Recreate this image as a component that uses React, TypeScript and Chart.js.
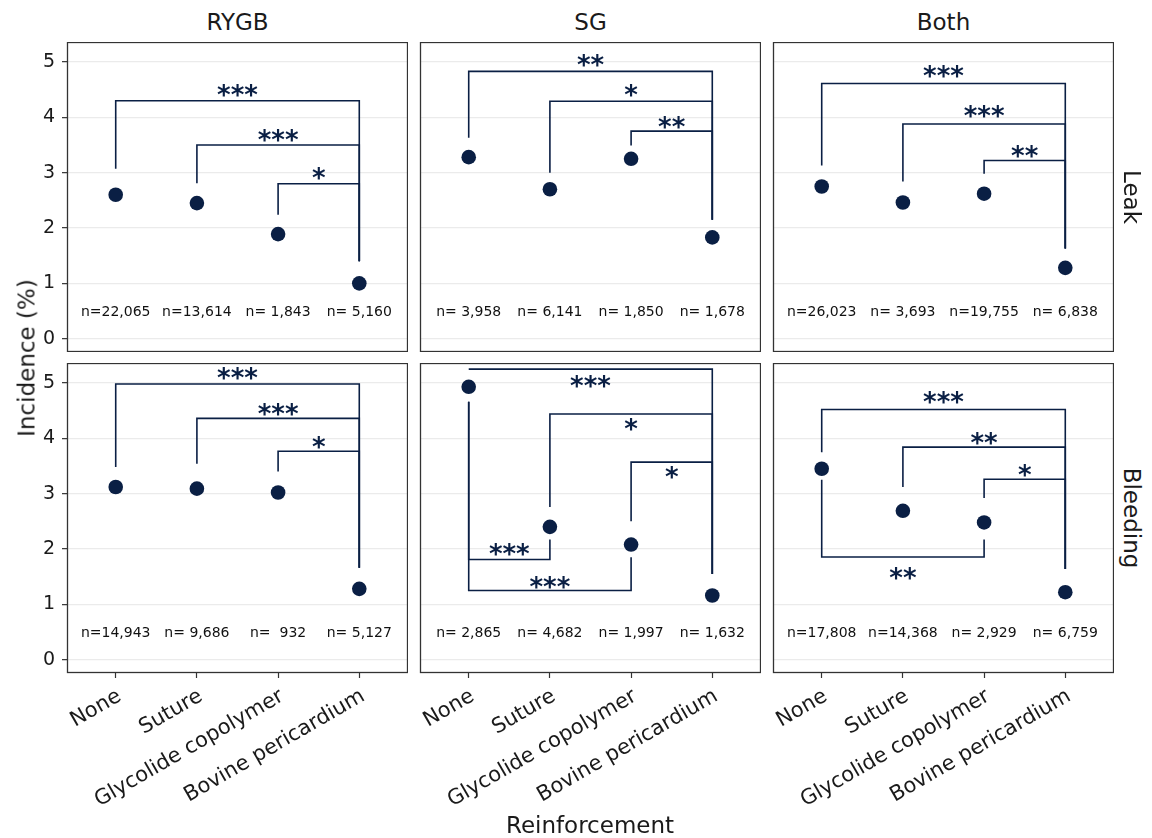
import React, { useEffect, useRef } from 'react';
import { Chart, registerables } from 'chart.js';

Chart.register(...registerables);

// ---------- data ----------
const categories = ['None', 'Suture', 'Glycolide copolymer', 'Bovine pericardium'];
const procedures = ['RYGB', 'SG', 'Both'];
const outcomes = ['Leak', 'Bleeding'];
const yTickValues = [0, 1, 2, 3, 4, 5];
const nLabelY = 0.5;

const leakRYGB = [2.6, 2.45, 1.89, 1.0];
const leakSG = [3.28, 2.7, 3.25, 1.83];
const leakBoth = [2.75, 2.46, 2.62, 1.28];
const bleedingRYGB = [3.12, 3.09, 3.02, 1.28];
const bleedingSG = [4.93, 2.4, 2.08, 1.16];
const bleedingBoth = [3.45, 2.69, 2.48, 1.22];

const leakNRYGB = ['n=22,065', 'n=13,614', 'n= 1,843', 'n= 5,160'];
const leakNSG = ['n= 3,958', 'n= 6,141', 'n= 1,850', 'n= 1,678'];
const leakNBoth = ['n=26,023', 'n= 3,693', 'n=19,755', 'n= 6,838'];
const bleedingNRYGB = ['n=14,943', 'n= 9,686', 'n=  932', 'n= 5,127'];
const bleedingNSG = ['n= 2,865', 'n= 4,682', 'n= 1,997', 'n= 1,632'];
const bleedingNBoth = ['n=17,808', 'n=14,368', 'n= 2,929', 'n= 6,759'];

// [fromCategory, toCategory, barValue, fromLegEnd, toLegEnd, label, labelValue]
type Bracket = [number, number, number, number, number, string, number];
const leakBracketsRYGB: Bracket[] = [
  [0, 3, 4.3, 3.07, 1.4, '***', 4.49],
  [1, 3, 3.5, 2.81, 1.4, '***', 3.68],
  [2, 3, 2.8, 2.24, 1.4, '*', 2.99],
];
const leakBracketsSG: Bracket[] = [
  [0, 3, 4.83, 3.63, 2.15, '**', 5.02],
  [1, 3, 4.29, 3.0, 2.15, '*', 4.49],
  [2, 3, 3.75, 3.49, 2.15, '**', 3.91],
];
const leakBracketsBoth: Bracket[] = [
  [0, 3, 4.61, 3.13, 1.63, '***', 4.82],
  [1, 3, 3.88, 2.84, 1.63, '***', 4.11],
  [2, 3, 3.22, 2.98, 1.63, '**', 3.39],
];
const bleedingBracketsRYGB: Bracket[] = [
  [0, 3, 4.98, 3.48, 1.66, '***', 5.17],
  [1, 3, 4.36, 3.54, 1.66, '***', 4.52],
  [2, 3, 3.765, 3.4, 1.66, '*', 3.93],
];
const bleedingBracketsSG: Bracket[] = [
  [0, 3, 5.25, 5.25, 1.55, '***', 5.03],
  [1, 3, 4.44, 2.76, 1.55, '*', 4.25],
  [2, 3, 3.57, 2.5, 1.55, '*', 3.38],
  [0, 1, 1.81, 4.66, 2.17, '***', 1.99],
  [0, 2, 1.25, 4.66, 1.85, '***', 1.4],
];
const bleedingBracketsBoth: Bracket[] = [
  [0, 3, 4.52, 3.75, 1.64, '***', 4.73],
  [1, 3, 3.84, 3.12, 1.64, '**', 4.0],
  [2, 3, 3.26, 2.92, 1.64, '*', 3.42],
  [0, 2, 1.855, 3.25, 2.17, '**', 1.555],
];

const panelValues = [
  [leakRYGB, leakSG, leakBoth],
  [bleedingRYGB, bleedingSG, bleedingBoth],
];
const panelN = [
  [leakNRYGB, leakNSG, leakNBoth],
  [bleedingNRYGB, bleedingNSG, bleedingNBoth],
];
const panelBrackets = [
  [leakBracketsRYGB, leakBracketsSG, leakBracketsBoth],
  [bleedingBracketsRYGB, bleedingBracketsSG, bleedingBracketsBoth],
];

// ---------- layout / style ----------
const FONT = '"DejaVu Sans", sans-serif';
const NAVY = '#0a1f44';
const TEXT = '#1a1a1a';
const COL_LEFT = [67, 420, 773];
const ROW_TOP = [42, 363];
const PANEL_W = 341;
const PANEL_H = 310;
const LEFT_M = 45;
const BOTTOM_M = 165;
const Y_MIN = -0.24;
const Y_MAX = 5.36;

function zeroPadding(s: any) {
  s.paddingTop = 0;
  s.paddingBottom = 0;
  s.paddingLeft = 0;
  s.paddingRight = 0;
}

function Panel({ r, c }: { r: number; c: number }) {
  const ref = useRef<HTMLCanvasElement>(null);
  const isLeft = c === 0;
  const isBottom = r === 1;
  const w = PANEL_W + LEFT_M;
  const h = PANEL_H + (isBottom ? BOTTOM_M : 0);

  useEffect(() => {
    const values = panelValues[r][c];
    const nLabels = panelN[r][c];
    const brackets = panelBrackets[r][c];

    const decor = {
      id: 'decor',
      beforeDatasetsDraw(chart: any) {
        const { ctx, chartArea, scales } = chart;
        const x = scales.x;
        const y = scales.y;
        ctx.save();
        ctx.beginPath();
        ctx.rect(chartArea.left, chartArea.top, chartArea.right - chartArea.left, chartArea.bottom - chartArea.top);
        ctx.clip();
        // n labels
        ctx.font = `14px ${FONT}`;
        ctx.fillStyle = '#111111';
        ctx.textAlign = 'center';
        ctx.textBaseline = 'alphabetic';
        const m = ctx.measureText('0123456789');
        const off = (m.actualBoundingBoxAscent - m.actualBoundingBoxDescent) / 2;
        nLabels.forEach((t: string, i: number) => {
          ctx.fillText(t, x.getPixelForValue(i), y.getPixelForValue(nLabelY) + off);
        });
        // brackets
        ctx.strokeStyle = NAVY;
        ctx.lineWidth = 1.6;
        ctx.lineCap = 'butt';
        ctx.lineJoin = 'miter';
        brackets.forEach(([a, b, bar, ea, eb]) => {
          const xa = x.getPixelForValue(a);
          const xb = x.getPixelForValue(b);
          ctx.beginPath();
          ctx.moveTo(xa, y.getPixelForValue(ea));
          ctx.lineTo(xa, y.getPixelForValue(bar));
          ctx.lineTo(xb, y.getPixelForValue(bar));
          ctx.lineTo(xb, y.getPixelForValue(eb));
          ctx.stroke();
        });
        ctx.font = `bold 26px ${FONT}`;
        ctx.fillStyle = NAVY;
        brackets.forEach(([a, b, , , , label, ly]) => {
          const xa = x.getPixelForValue(a);
          const xb = x.getPixelForValue(b);
          const mm = ctx.measureText(label);
          const o = (mm.actualBoundingBoxAscent - mm.actualBoundingBoxDescent) / 2;
          ctx.fillText(label, (xa + xb) / 2, y.getPixelForValue(ly) + o);
        });
        ctx.restore();
      },
      afterDraw(chart: any) {
        const { ctx, chartArea } = chart;
        ctx.save();
        ctx.strokeStyle = '#333333';
        ctx.lineWidth = 1.3;
        ctx.strokeRect(
          chartArea.left + 0.5,
          chartArea.top + 0.5,
          chartArea.right - chartArea.left - 1,
          chartArea.bottom - chartArea.top - 1
        );
        ctx.restore();
      },
    };

    const chart = new Chart(ref.current as HTMLCanvasElement, {
      type: 'scatter',
      data: {
        datasets: [
          {
            data: values.map((v, i) => ({ x: i, y: v })),
            backgroundColor: NAVY,
            borderColor: NAVY,
            borderWidth: 0,
            pointRadius: 7.3,
            pointHoverRadius: 7.3,
          },
        ],
      },
      options: {
        animation: false,
        responsive: false,
        maintainAspectRatio: false,
        devicePixelRatio: 1,
        events: [],
        layout: { padding: 0, autoPadding: false },
        plugins: { legend: { display: false }, tooltip: { enabled: false } },
        scales: {
          x: {
            type: 'linear',
            display: isBottom,
            min: -0.6,
            max: 3.6,
            afterBuildTicks: (s: any) => {
              s.ticks = [0, 1, 2, 3].map((v) => ({ value: v }));
            },
            afterFit: (s: any) => {
              s.height = isBottom ? BOTTOM_M : 0;
              zeroPadding(s);
            },
            grid: {
              drawOnChartArea: false,
              drawTicks: true,
              tickLength: 5,
              tickColor: '#333333',
              tickWidth: 1.2,
            },
            border: { display: false },
            ticks: {
              autoSkip: false,
              minRotation: 30,
              maxRotation: 30,
              padding: 6,
              labelOffset: 4,
              color: TEXT,
              font: { family: FONT, size: 21 },
              callback: (v: any) => categories[v as number] ?? '',
            },
          },
          y: {
            type: 'linear',
            display: true,
            min: Y_MIN,
            max: Y_MAX,
            afterBuildTicks: (s: any) => {
              s.ticks = yTickValues.map((v) => ({ value: v }));
            },
            afterFit: (s: any) => {
              s.width = LEFT_M;
              zeroPadding(s);
            },
            grid: {
              color: '#ebebeb',
              lineWidth: 1.3,
              drawTicks: isLeft,
              tickLength: 5,
              tickColor: '#333333',
              tickWidth: 1.2,
            },
            border: { display: false },
            ticks: {
              display: isLeft,
              padding: 7,
              color: TEXT,
              font: { family: FONT, size: 19 },
              callback: (v: any) => String(v),
            },
          },
        },
      },
      plugins: [decor],
    } as any);
    return () => chart.destroy();
  }, [r, c]);

  return (
    <canvas
      ref={ref}
      width={w}
      height={h}
      style={{
        position: 'absolute',
        left: COL_LEFT[c] - LEFT_M,
        top: ROW_TOP[r],
        width: w,
        height: h,
      }}
    />
  );
}

const textStyle: React.CSSProperties = {
  position: 'absolute',
  fontFamily: FONT,
  fontSize: 23,
  lineHeight: '1',
  color: TEXT,
  whiteSpace: 'nowrap',
};

export default function App() {
  return (
    <div
      style={{
        position: 'absolute',
        left: 0,
        top: 0,
        width: 1152,
        height: 838,
        background: '#ffffff',
        overflow: 'hidden',
      }}
    >
      {[0, 1].map((r) => [0, 1, 2].map((c) => <Panel key={`${r}-${c}`} r={r} c={c} />))}
      {procedures.map((p, c) => (
        <div
          key={p}
          style={{
            ...textStyle,
            left: COL_LEFT[c] + PANEL_W / 2,
            top: 22,
            transform: 'translate(-50%, -50%)',
          }}
        >
          {p}
        </div>
      ))}
      {outcomes.map((o, r) => (
        <div
          key={o}
          style={{
            ...textStyle,
            left: 1131,
            top: ROW_TOP[r] + PANEL_H / 2,
            transform: 'translate(-50%, -50%) rotate(90deg)',
          }}
        >
          {o}
        </div>
      ))}
      <div
        style={{
          ...textStyle,
          left: 27,
          top: 358,
          transform: 'translate(-50%, -50%) rotate(-90deg)',
        }}
      >
        Incidence (%)
      </div>
      <div
        style={{
          ...textStyle,
          left: 590,
          top: 825,
          transform: 'translate(-50%, -50%)',
        }}
      >
        Reinforcement
      </div>
    </div>
  );
}
